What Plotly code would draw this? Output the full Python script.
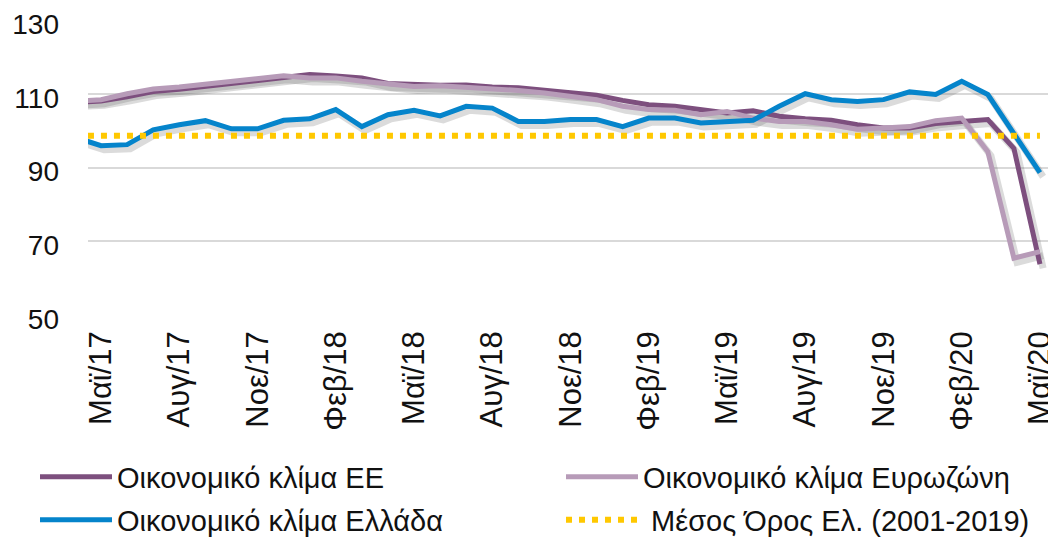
import plotly.graph_objects as go

months = ["Απρ/17", "Μαϊ/17", "Ιουν/17", "Ιουλ/17", "Αυγ/17", "Σεπ/17", "Οκτ/17", "Νοε/17", "Δεκ/17",
          "Ιαν/18", "Φεβ/18", "Μαρ/18", "Απρ/18", "Μαϊ/18", "Ιουν/18", "Ιουλ/18", "Αυγ/18", "Σεπ/18",
          "Οκτ/18", "Νοε/18", "Δεκ/18", "Ιαν/19", "Φεβ/19", "Μαρ/19", "Απρ/19", "Μαϊ/19", "Ιουν/19",
          "Ιουλ/19", "Αυγ/19", "Σεπ/19", "Οκτ/19", "Νοε/19", "Δεκ/19", "Ιαν/20", "Φεβ/20", "Μαρ/20",
          "Απρ/20", "Μαϊ/20"]

eu = [107.6, 108.0, 109.2, 110.6, 111.2, 112.0, 113.0, 113.6, 114.6,
      115.2, 114.8, 114.3, 112.8, 112.5, 112.3, 112.4, 111.8, 111.6,
      110.9, 110.3, 109.6, 108.2, 107.0, 106.6, 105.7, 104.8, 105.4,
      103.9, 103.2, 102.8, 101.6, 100.7, 100.7, 101.9, 102.5, 103.0,
      95.2, 63.8]

ea = [108.0, 108.4, 110.0, 111.3, 111.8, 112.5, 113.4, 114.0, 114.9,
      114.3, 114.3, 113.4, 112.7, 112.0, 112.2, 111.8, 111.3, 110.9,
      110.2, 109.3, 108.4, 106.6, 105.7, 105.5, 104.3, 105.2, 103.4,
      102.5, 102.5, 101.6, 100.4, 100.7, 101.1, 102.7, 103.4, 94.3,
      65.4, 67.2]

gr = [98.2, 95.9, 96.2, 100.2, 101.6, 102.7, 100.5, 100.5, 102.8,
      103.2, 105.7, 101.1, 104.3, 105.5, 104.0, 106.6, 106.1, 102.5,
      102.5, 103.0, 103.0, 101.1, 103.4, 103.4, 102.1, 102.5, 102.8,
      106.6, 110.0, 108.4, 107.9, 108.4, 110.5, 109.8, 113.4, 109.8,
      99.2, 88.6]

gr_mean_2001_2019 = 98.6
mean_series = [gr_mean_2001_2019] * len(months)

tick_labels = ["Μαϊ/17", "Αυγ/17", "Νοε/17", "Φεβ/18", "Μαϊ/18", "Αυγ/18", "Νοε/18",
               "Φεβ/19", "Μαϊ/19", "Αυγ/19", "Νοε/19", "Φεβ/20", "Μαϊ/20"]
y_ticks = [50, 70, 90, 110, 130]

names = ["Οικονομικό κλίμα ΕΕ", "Οικονομικό κλίμα Ευρωζώνη",
         "Οικονομικό κλίμα Ελλάδα", "\u00a0Μέσος Όρος Ελ. (2001-2019)"]
colors = ["#7D4F7E", "#B79BB8", "#0584CB", "#FFC800"]

FONT = "Liberation Sans"
idx = list(range(len(months)))

fig = go.Figure()

# soft shadows (same data, slightly displaced)
for series in (eu, ea, gr):
    fig.add_trace(go.Scatter(
        x=[i + 0.12 for i in idx], y=[v - 1.1 for v in series], mode="lines",
        line=dict(color="rgba(90,90,90,0.22)", width=7), showlegend=False, hoverinfo="skip"))

legend_ids = ["legend", "legend2", "legend3", "legend4"]
for series, name, col, lg in zip((eu, ea, gr), names[:3], colors[:3], legend_ids[:3]):
    fig.add_trace(go.Scatter(x=idx, y=series, mode="lines", name=name, legend=lg,
                             line=dict(color=col, width=5)))

fig.add_trace(go.Scatter(x=idx, y=mean_series, mode="lines",
                         name=names[3], legend="legend4",
                         line=dict(color=colors[3], width=6, dash="6px,7px")))

tickvals = [months.index(t) for t in tick_labels]

# The page body adds an 8px margin, so figure coords = page coords - 8.
W, H = 1048, 531
L, R, T, B = 80, 3, 12, 224          # plot area: x 80..1045, y 12..307
PW, PH = W - L - R, H - T - B

def px(xp):
    return (xp - L) / PW
def py(yp):
    return (H - B - yp) / PH

leg_font = dict(family=FONT, size=29, color="#111111")
def leg(x, y):
    return dict(x=px(x), xanchor="left", y=py(y), yanchor="middle", itemwidth=72,
                font=leg_font, bgcolor="rgba(0,0,0,0)", borderwidth=0)

fig.update_layout(
    width=W, height=H,
    margin=dict(l=L, r=R, t=T, b=B, autoexpand=False),
    paper_bgcolor="white", plot_bgcolor="white",
    font=dict(family=FONT, size=28, color="#111111"),
    showlegend=True,
    legend=leg(27, 469),
    legend2=leg(553, 469),
    legend3=leg(27, 512),
    legend4=leg(553, 512),
    xaxis=dict(range=[0.5, len(months) - 0.5], tickmode="array", tickvals=tickvals,
               ticktext=tick_labels, tickangle=-90, showgrid=False, zeroline=False,
               showline=False, ticks="", tickfont=dict(family=FONT, size=31),
               ticklabelstandoff=9, ticklabelshift=0, ticklabeloverflow="allow",
               automargin=False),
    yaxis=dict(range=[50, 130], tickmode="array", tickvals=y_ticks,
               showgrid=True, gridcolor="#D9D9D9", gridwidth=2, zeroline=False,
               showline=False, ticks="", ticklabelstandoff=28, ticklabelshift=4,
               ticklabeloverflow="allow", automargin=False,
               tickfont=dict(family=FONT, size=28)),
)

fig.write_html("out.html")
